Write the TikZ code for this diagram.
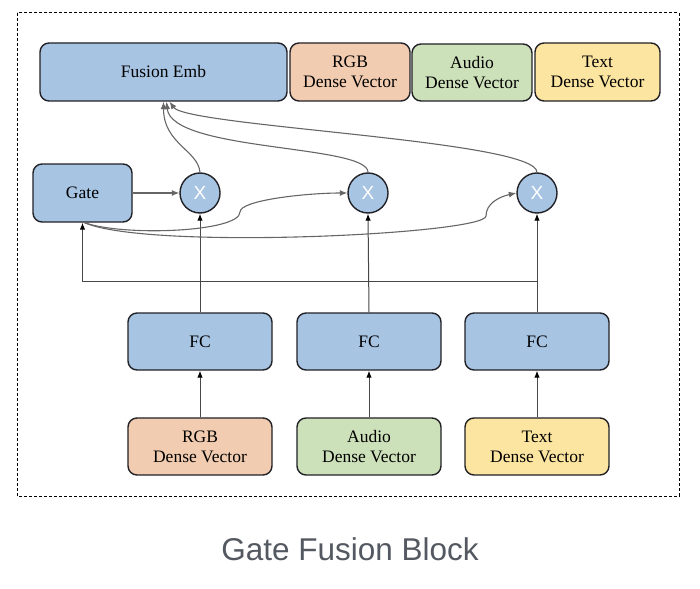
\documentclass[tikz,border=0pt]{standalone}
\usepackage{fontspec}
\setmainfont{Liberation Serif}
\newfontfamily\capfont{Liberation Sans}
\usetikzlibrary{arrows.meta,positioning}

\tikzset{
  blk/.style={draw=cbd, line width=1.4pt, rounded corners=9pt, align=center,
    inner sep=0pt, font=\fontsize{17.5}{20}\selectfont},
  mul/.style={circle, draw=cbd, line width=1.4pt, fill=cbl, minimum size=40pt,
    inner sep=0pt, text=white, font=\capfont\fontsize{19}{19}\selectfont},
  link/.style={draw=cln, line width=1.1pt, -{Latex[length=7.5pt,width=6pt]}},
  vlink/.style={draw=cvl, line width=1pt, -{Latex[length=7pt,width=5.5pt,black]}},
}

\begin{document}
\begin{tikzpicture}[x=1pt,y=1pt]
%
\useasboundingbox (0,0) rectangle (700,-588);
%
\definecolor{cbd}{rgb}{0.13,0.13,0.15}
\definecolor{cbl}{rgb}{0.66,0.77,0.89}
\definecolor{cor}{rgb}{0.95,0.80,0.69}
\definecolor{cgr}{rgb}{0.80,0.88,0.73}
\definecolor{cye}{rgb}{0.99,0.90,0.63}
\definecolor{cln}{rgb}{0.40,0.40,0.40}
\definecolor{cvl}{rgb}{0.28,0.28,0.28}
\definecolor{ccap}{rgb}{0.33,0.35,0.38}
%
\draw[line width=1pt, dash pattern=on 3pt off 2pt] (17,-13) rectangle (679,-496);
%
\node[blk, fill=cbl, minimum width=247, minimum height=58] (fusion) at (163.5,-72) {Fusion Emb};
\node[blk, fill=cor, minimum width=120, minimum height=58] (top0) at (350,-72) {RGB\\Dense Vector};
\node[blk, fill=cgr, minimum width=120, minimum height=57] (top1) at (472,-72.5) {Audio\\Dense Vector};
\node[blk, fill=cye, minimum width=125, minimum height=58] (top2) at (597.5,-72) {Text\\Dense Vector};
%
\node[blk, fill=cbl, minimum width=99, minimum height=58] (gate) at (82.5,-193) {Gate};
\node[mul] (x0) at (200,-193) {X};
\node[mul] (x1) at (368,-193) {X};
\node[mul] (x2) at (537,-193) {X};
%
\node[blk, fill=cbl, minimum width=144, minimum height=57] (fc0) at (200,-341.5) {FC};
\node[blk, fill=cbl, minimum width=144, minimum height=57] (fc1) at (369,-341.5) {FC};
\node[blk, fill=cbl, minimum width=144, minimum height=57] (fc2) at (537,-341.5) {FC};
%
\node[blk, fill=cor, minimum width=144, minimum height=57] (in0) at (200,-446.5) {RGB\\Dense Vector};
\node[blk, fill=cgr, minimum width=144, minimum height=57] (in1) at (369,-446.5) {Audio\\Dense Vector};
\node[blk, fill=cye, minimum width=144, minimum height=57] (in2) at (537,-446.5) {Text\\Dense Vector};
%
\node[text=ccap, font=\capfont\fontsize{31.5}{31.5}\selectfont] (cap) at (350,-549) {Gate Fusion Block};
%
\foreach \i in {0,1,2}{
  \draw[vlink] (in\i.north) -- (fc\i.south);
  \draw[vlink] (fc\i.north) -- (x\i.south);
}
%
\coordinate (fb) at (82.5,-281);
\draw[vlink] (fc2.north |- fb) -- (fb) -- (gate.south);
%
\draw[link] (gate.east) -- (x0.west);
\draw[link] ([xshift=2pt]gate.south) .. controls +(40,-14) and +(0,-20) .. (240,-212)
  .. controls +(0,12) and +(-40,0) .. (x1.west);
\draw[link] ([xshift=2pt]gate.south) .. controls +(65,-28) and +(0,-18) .. (486,-216)
  .. controls +(0,12) and +(-18,-4) .. (x2.west);
%
\draw[link] (x0.north) .. controls +(-2,22) and +(0,-42) .. ([xshift=0pt]fusion.south);
\draw[link] (x1.north) .. controls +(0,28) and +(5,-50) .. ([xshift=3pt]fusion.south);
\draw[link] (x2.north) .. controls +(0,32) and +(18,-25) .. ([xshift=6pt]fusion.south);
%
\end{tikzpicture}
\end{document}
